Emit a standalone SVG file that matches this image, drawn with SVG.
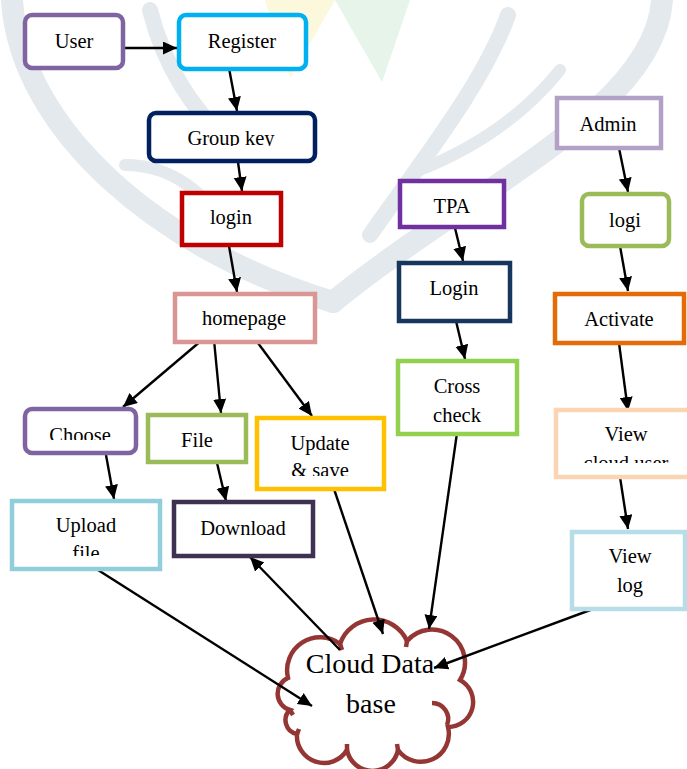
<svg xmlns="http://www.w3.org/2000/svg" width="687" height="769" viewBox="0 0 687 769">
<style>
.b{fill:#fff;stroke-width:4.5}
.t{font-family:"Liberation Serif","Times New Roman",serif;font-size:20.5px;fill:#000;text-anchor:middle}
.c{stroke:#000;stroke-width:2.4;fill:none;marker-end:url(#ah)}
.cl{fill:#fff;stroke:#943634;stroke-width:4.5}
.wm{fill:none;stroke:#E4E9ED;stroke-linecap:round}
</style>
<defs>
<marker id="ah" markerUnits="userSpaceOnUse" markerWidth="15" markerHeight="14" refX="14" refY="6.5" orient="auto">
<path d="M0,0 L14,6.5 L0,13 z" fill="#000"/>
</marker>
<clipPath id="cpG"><rect x="150" y="114" width="163" height="32"/></clipPath>
<clipPath id="cpC"><rect x="27" y="410" width="107" height="30"/></clipPath>
<clipPath id="cpU"><rect x="259" y="419" width="123" height="57"/></clipPath>
<clipPath id="cpF"><rect x="14" y="502" width="144" height="54"/></clipPath>
<clipPath id="cpV"><rect x="557" y="410" width="130" height="53"/></clipPath>
</defs>
<rect width="687" height="769" fill="#fff"/>

<g id="watermark">
<path d="M265,0 L335,0 L290,78 Z" fill="#FBF8DC"/>
<path d="M335,0 L410,0 L382,82 Z" fill="#E6F4EA"/>
<path class="wm" d="M12,0 C20,130 160,250 333,302" stroke-width="22"/>
<path class="wm" d="M662,0 C655,110 470,190 333,302" stroke-width="22"/>
<path class="wm" d="M150,10 C165,70 195,110 225,140" stroke-width="16"/>
<path class="wm" d="M125,165 C175,165 205,195 235,235" stroke-width="12"/>
<path class="wm" d="M508,15 C485,80 430,150 370,235" stroke-width="16"/>
<path class="wm" d="M560,70 C520,120 470,150 420,170" stroke-width="12"/>
</g>

<g id="cloud">
<path class="cl" d="M288,678 A33,33 0 0 1 340,644 A36,36 0 0 1 407,641 A33,33 0 0 1 460,680 A25,25 0 0 1 448,727 A28,28 0 0 1 398,750 A26,26 0 0 1 347,750 A27,27 0 0 1 297,734 A14,14 0 0 1 290,710 A17,17 0 0 1 288,678 Z"/>
<path d="M340,644 l2,6 M407,641 l-1,6 M290,710 l3,5 M297,734 l2,-5 M347,750 l0,-6 M398,750 l-1,-6 M432,703 A16,16 0 0 1 447,725" fill="none" stroke="#943634" stroke-width="4.5"/>
<text class="t" x="370" y="673" style="font-size:28px">Cloud Data</text>
<text class="t" x="371" y="713" style="font-size:28px">base</text>
</g>

<g id="connectors">
<line class="c" x1="124" y1="48" x2="177" y2="48"/>
<line class="c" x1="229" y1="68" x2="237" y2="111"/>
<line class="c" x1="238" y1="162" x2="242" y2="191"/>
<line class="c" x1="229" y1="246" x2="237" y2="292"/>
<line class="c" x1="202" y1="340" x2="123" y2="407"/>
<line class="c" x1="214" y1="340" x2="221" y2="413"/>
<line class="c" x1="255" y1="339" x2="312" y2="416"/>
<line class="c" x1="106" y1="455" x2="114" y2="499"/>
<line class="c" x1="217" y1="463" x2="226" y2="501"/>
<line class="c" x1="455" y1="228" x2="463" y2="261"/>
<line class="c" x1="456" y1="321" x2="465" y2="359"/>
<line class="c" x1="619" y1="148" x2="628" y2="192"/>
<line class="c" x1="620" y1="246" x2="628" y2="291"/>
<line class="c" x1="619" y1="343" x2="628" y2="411"/>
<line class="c" x1="620" y1="477" x2="628" y2="529"/>
<line class="c" x1="98" y1="570" x2="312" y2="706"/>
<line class="c" x1="340" y1="650" x2="250" y2="557"/>
<line class="c" x1="334" y1="489" x2="383" y2="634"/>
<line class="c" x1="457" y1="433" x2="429" y2="629"/>
<line class="c" x1="593" y1="609" x2="434" y2="668"/>
</g>

<g id="user"><rect class="b" x="25" y="15" width="98" height="53" rx="7" stroke="#8064A2"/><text class="t" x="74" y="48">User</text></g>
<g id="register"><rect class="b" x="179" y="15" width="127" height="54" rx="7" stroke="#00B0F0"/><text class="t" x="242" y="48">Register</text></g>
<g id="groupkey"><rect class="b" x="149" y="113" width="166" height="48" rx="7" stroke="#002060"/><text class="t" x="231" y="145" clip-path="url(#cpG)">Group key</text></g>
<g id="login"><rect class="b" x="182" y="193" width="99" height="52" stroke="#C00000"/><text class="t" x="231" y="224">login</text></g>
<g id="homepage"><rect class="b" x="175" y="294" width="140" height="48" stroke="#D99694"/><text class="t" x="244" y="325">homepage</text></g>
<g id="choose"><rect class="b" x="25" y="409" width="111" height="44" rx="7" stroke="#8064A2"/><text class="t" x="80" y="442" clip-path="url(#cpC)">Choose</text></g>
<g id="file"><rect class="b" x="148" y="415" width="98" height="47" stroke="#9BBB59"/><text class="t" x="197" y="447">File</text></g>
<g id="update"><rect class="b" x="257" y="418" width="127" height="71" stroke="#FFC000"/><text class="t" x="320" y="450">Update</text><text class="t" x="320" y="477" clip-path="url(#cpU)">&amp; save</text></g>
<g id="upload"><rect class="b" x="12" y="501" width="148" height="68" stroke="#92CDDC"/><text class="t" x="86" y="532">Upload</text><text class="t" x="86" y="560" clip-path="url(#cpF)">file</text></g>
<g id="download"><rect class="b" x="174" y="502" width="139" height="54" stroke="#3F3151"/><text class="t" x="243" y="535">Download</text></g>
<g id="tpa"><rect class="b" x="400" y="181" width="104" height="46" stroke="#7030A0"/><text class="t" x="452" y="213">TPA</text></g>
<g id="tpalogin"><rect class="b" x="399" y="263" width="111" height="58" stroke="#17365D"/><text class="t" x="454" y="295">Login</text></g>
<g id="crosscheck"><rect class="b" x="398" y="361" width="119" height="73" stroke="#92D050"/><text class="t" x="457" y="393">Cross</text><text class="t" x="457" y="422">check</text></g>
<g id="admin"><rect class="b" x="557" y="98" width="104" height="50" stroke="#B2A1C7"/><text class="t" x="608" y="131">Admin</text></g>
<g id="logi"><rect class="b" x="582" y="194" width="87" height="52" rx="7" stroke="#9BBB59"/><text class="t" x="625" y="227">logi</text></g>
<g id="activate"><rect class="b" x="555" y="294" width="129" height="49" stroke="#E36C09"/><text class="t" x="619" y="326">Activate</text></g>
<g id="viewcloud"><rect class="b" x="556" y="410" width="134" height="67" stroke="#FBD4B4"/><text class="t" x="626" y="441">View</text><text class="t" x="626" y="470" clip-path="url(#cpV)">cloud user</text></g>
<g id="viewlog"><rect class="b" x="572" y="532" width="113" height="77" stroke="#B6DDE8"/><text class="t" x="630" y="563">View</text><text class="t" x="630" y="592">log</text></g>
</svg>
